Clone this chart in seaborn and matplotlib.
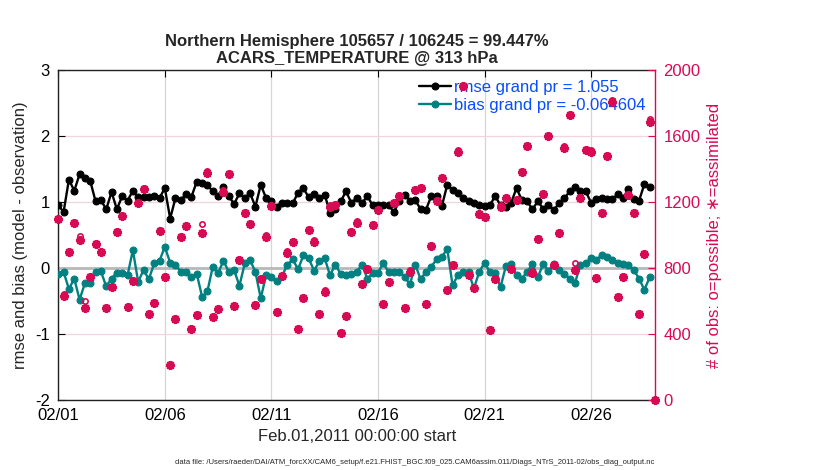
import numpy as np
import pandas as pd
import matplotlib
matplotlib.use("Agg")
import matplotlib.pyplot as plt
import matplotlib.dates as mdates
import seaborn as sns

# ---------------- data ----------------
times = pd.date_range("2011-02-01 00:00", periods=113, freq="6h")

rmse = [0.95, 0.85, 1.34, 1.17, 1.42, 1.36, 1.32, 1.01, 1.03, 0.89,
        1.15, 0.89, 1.09, 1.02, 1.17, 1.07, 1.07, 1.08, 1.09, 1.06,
        1.21, 0.75, 1.06, 1.03, 1.12, 1.08, 1.31, 1.29, 1.26, 1.16,
        1.09, 1.22, 1.09, 0.97, 1.13, 1.06, 1.13, 0.93, 1.26, 1.06,
        1.01, 0.93, 0.99, 0.99, 0.98, 1.14, 1.21, 1.07, 1.12, 1.06,
        1.11, 0.84, 0.89, 1.01, 1.16, 0.99, 1.06, 0.98, 1.09, 0.95,
        0.95, 0.95, 0.95, 0.85, 1.01, 1.11, 1.02, 1.03, 0.89, 0.88,
        1.09, 1.09, 0.94, 1.26, 1.18, 1.13, 1.06, 1.01, 0.98, 0.95,
        0.94, 0.95, 1.09, 0.95, 0.93, 0.99, 1.21, 1.03, 1.01, 0.89,
        1.01, 0.90, 0.95, 0.88, 0.98, 1.06, 1.16, 1.22, 1.17, 1.16,
        0.99, 1.04, 1.06, 1.04, 1.04, 1.12, 1.06, 1.19, 1.04, 1.02,
        1.27, 1.22]

bias = [-0.09, -0.06, -0.32, -0.16, -0.48, -0.23, -0.23, -0.06, -0.05, -0.28,
        -0.16, -0.07, -0.08, -0.11, 0.27, -0.21, -0.03, -0.17, 0.07, 0.11,
        0.32, 0.08, 0.05, -0.06, -0.06, -0.14, -0.09, -0.44, -0.35, 0.02,
        -0.08, 0.11, -0.06, -0.03, -0.27, 0.07, 0.12, -0.06, -0.46, -0.11,
        -0.14, -0.19, -0.12, 0.05, 0.13, -0.02, 0.19, 0.15, -0.04, 0.10,
        0.15, -0.11, 0.05, -0.09, -0.11, -0.09, -0.06, 0.05, -0.16, -0.08,
        -0.07, 0.07, -0.06, -0.06, -0.06, -0.13, -0.25, 0.05, -0.17, -0.06,
        0.02, 0.13, 0.17, 0.29, -0.26, -0.11, -0.06, -0.06, -0.31, -0.06,
        0.08, -0.06, -0.07, -0.29, 0.03, 0.06, -0.11, -0.16, -0.06, 0.06,
        -0.14, 0.06, -0.04, 0.06, -0.03, -0.09, -0.16, -0.22, 0.05, 0.07,
        0.15, 0.12, 0.20, 0.16, 0.12, 0.07, 0.06, 0.05, -0.03, -0.16,
        -0.33, -0.14]

n_assim = [1095, 632, 899, 1071, 970, 556, 743, 945, 899, 556,
           683, 1016, 1117, 566, 723, 1192, 1279, 521, 586, 1026,
           747, 212, 489, 986, 1054, 430, 515, 1010, 1374, 505,
           549, 1263, 1370, 570, 848, 1135, 1067, 574, 731, 990,
           1176, 531, 751, 893, 956, 430, 616, 1030, 960, 521,
           657, 1172, 1182, 404, 509, 1020, 1075, 700, 792, 1061,
           1152, 582, 717, 1192, 1236, 556, 778, 1273, 1283, 582,
           935, 1208, 1343, 667, 816, 1505, 1903, 758, 677, 1127,
           1111, 424, 733, 1172, 1226, 792, 1212, 1380, 1539, 772,
           974, 1248, 1600, 818, 1014, 1529, 1727, 788, 1222, 1515,
           1505, 737, 1135, 1479, 1808, 622, 743, 1242, 1135, 521,
           885, 1687, 0]

n_poss = [1102, 640, 905, 1078, 994, 602, 750, 952, 906, 562,
          690, 1022, 1124, 572, 730, 1200, 1287, 528, 592, 1033,
          754, 218, 496, 993, 1061, 436, 522, 1067, 1385, 511,
          556, 1271, 1378, 577, 856, 1142, 1074, 580, 738, 997,
          1183, 537, 758, 900, 963, 437, 623, 1037, 967, 528,
          664, 1179, 1189, 410, 516, 1027, 1082, 707, 799, 1068,
          1159, 589, 724, 1199, 1244, 563, 785, 1281, 1291, 589,
          942, 1215, 1351, 674, 823, 1513, 1912, 765, 684, 1134,
          1118, 430, 740, 1179, 1233, 799, 1219, 1388, 1547, 779,
          981, 1255, 1608, 825, 1021, 1537, 1735, 832, 1229, 1523,
          1513, 744, 1142, 1487, 1816, 629, 750, 1249, 1142, 528,
          892, 1701, 0]

xtick_dates = ["2011-02-01", "2011-02-06", "2011-02-11", "2011-02-16",
               "2011-02-21", "2011-02-26"]
left_ticks = [-2, -1, 0, 1, 2, 3]
right_ticks = [0, 400, 800, 1200, 1600, 2000]

title_text = ("Northern Hemisphere 105657 / 106245 = 99.447%\n"
              "ACARS_TEMPERATURE @ 313 hPa")
rmse_label = "rmse grand pr = 1.055"
bias_label = "bias grand pr = -0.064604"
datafile = ("data file: /Users/raeder/DAI/ATM_forcXX/CAM6_setup/"
            "f.e21.FHIST_BGC.f09_025.CAM6assim.011/Diags_NTrS_2011-02/"
            "obs_diag_output.nc")

# ---------------- style ----------------
sns.set_style("white")
plt.rcParams["font.family"] = ["Liberation Sans", "DejaVu Sans"]
plt.rcParams["axes.unicode_minus"] = False

crimson = "#D70A53"
teal = "#008080"
legend_blue = "#0A4BFF"

df_stat = pd.DataFrame({"time": times[:112], "rmse": rmse, "bias": bias})
df_obs = pd.DataFrame({"time": times, "assim": n_assim, "poss": n_poss})

fig = plt.figure(figsize=(8.3, 4.7), dpi=100)
ax = fig.add_axes([0.0702, 0.149, 0.719, 0.702])
ax2 = ax.twinx()

# zero line
ax.axhline(0, color="#b8b8b8", lw=2.0, zorder=1)

sns.lineplot(data=df_stat, x="time", y="rmse", ax=ax, color="black",
             marker="o", markersize=5, markeredgecolor="black",
             linewidth=1.7, label=rmse_label, zorder=3)
sns.lineplot(data=df_stat, x="time", y="bias", ax=ax, color=teal,
             marker="o", markersize=5, markeredgecolor=teal,
             linewidth=1.7, label=bias_label, zorder=3)

sns.lineplot(data=df_obs, x="time", y="assim", ax=ax2, color=crimson,
             linestyle="", marker=(8, 2, 0), markersize=6.5,
             markeredgewidth=1.6, markeredgecolor=crimson, legend=False,
             clip_on=False)
sns.lineplot(data=df_obs, x="time", y="poss", ax=ax2, color=crimson,
             linestyle="", marker="o", markersize=3.8,
             markerfacecolor="none", markeredgecolor=crimson,
             markeredgewidth=1.2, legend=False, clip_on=False)

# axes limits / ticks
ax.set_xlim(times[0], times[-1])
ax.set_ylim(-2, 3)
ax2.set_ylim(0, 2000)
ax.set_yticks(left_ticks)
ax2.set_yticks(right_ticks)
ax.set_xticks(pd.to_datetime(xtick_dates))
ax.xaxis.set_major_formatter(mdates.DateFormatter("%m/%d"))

ax.tick_params(axis="both", direction="in", labelsize=12, length=5,
               colors="black", width=0.8, top=True)
ax.tick_params(axis="x", pad=6)
ax.tick_params(axis="y", pad=6)
ax2.tick_params(axis="y", direction="in", labelsize=12, length=5,
                colors=crimson, width=0.8, pad=6)

# grid (horizontal lines coincide for both axes)
ax.xaxis.grid(True, color="#d6d6d6", lw=0.9)
ax.yaxis.grid(True, color="#f2d4de", lw=0.9)
ax.set_axisbelow(True)
ax2.grid(False)

for s in ["left", "bottom", "top"]:
    ax.spines[s].set_color("#222222")
    ax.spines[s].set_linewidth(1.0)
ax.spines["right"].set_visible(False)
for s in ["left", "bottom", "top"]:
    ax2.spines[s].set_visible(False)
ax2.spines["right"].set_color(crimson)
ax2.spines["right"].set_linewidth(1.0)

ax.set_xlabel("Feb.01,2011 00:00:00 start", fontsize=12, labelpad=4)
ax.set_ylabel("rmse and bias (model - observation)", fontsize=12,
              labelpad=5)
ax2.set_ylabel("# of obs: o=possible; \u2217=assimilated", fontsize=12,
               color=crimson, labelpad=5)

ax.set_title(title_text, fontsize=12, fontweight="bold", pad=5,
             linespacing=1.2)

leg = ax.legend(loc="upper right", bbox_to_anchor=(1.0, 1.0),
                frameon=False, fontsize=12, labelcolor=legend_blue,
                handlelength=1.9, handletextpad=0.15, borderaxespad=0.2,
                labelspacing=0.15)

fig.text(0.5, 0.017, datafile, fontsize=5.5, ha="center", va="center")

fig.savefig("out.png", dpi=100)
